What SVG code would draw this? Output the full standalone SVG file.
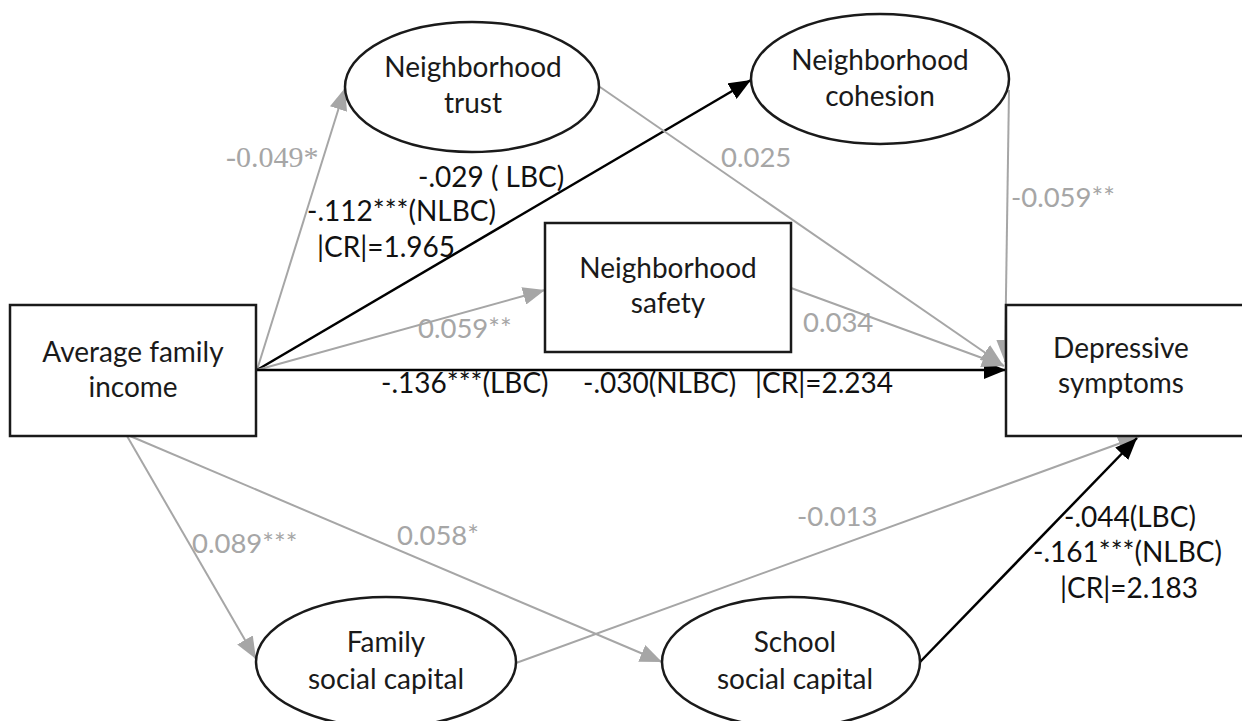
<svg xmlns="http://www.w3.org/2000/svg" width="1242" height="721" viewBox="0 0 1242 721">
<style>
.node{fill:#fff;stroke:#1a1a1a;stroke-width:2.5}
.lbl{font-family:Lato,"Open Sans",sans-serif;font-size:28px;fill:#1a1a1a;text-anchor:middle}
.blk{font-family:Lato,"Open Sans",sans-serif;font-size:28px;fill:#111}
.gry{font-family:Lato,"Open Sans",sans-serif;font-size:27.5px;fill:#a6a6a6}
.gser{font-family:"Liberation Serif",serif;font-size:30px;fill:#a6a6a6}
.cg{stroke:#a6a6a6;stroke-width:2;fill:none;marker-end:url(#ag)}
.cb{stroke:#000;stroke-width:2.5;fill:none;marker-end:url(#ab)}
</style>
<defs>
<marker id="ag" markerUnits="userSpaceOnUse" markerWidth="22" markerHeight="18" refX="22" refY="9" orient="auto"><path d="M0,0 L22,9 L0,18 z" fill="#a6a6a6"/></marker>
<marker id="ab" markerUnits="userSpaceOnUse" markerWidth="22" markerHeight="18" refX="22" refY="9" orient="auto"><path d="M0,0 L22,9 L0,18 z" fill="#000"/></marker>
</defs>
<rect width="1242" height="721" fill="#fff"/>
<g id="connectors">
<line class="cg" x1="257" y1="370" x2="345" y2="88"/>
<line class="cb" x1="257" y1="370" x2="751" y2="80"/>
<line class="cg" x1="257" y1="370" x2="545" y2="290"/>
<line class="cb" x1="257" y1="370" x2="1006" y2="370"/>
<line class="cg" x1="600" y1="87" x2="1003" y2="365"/>
<line class="cg" x1="791" y1="288" x2="1004" y2="366"/>
<line class="cg" x1="1009" y1="90" x2="1005" y2="362"/>
<line class="cg" x1="127" y1="436" x2="256" y2="659"/>
<line class="cg" x1="130" y1="436" x2="662" y2="662"/>
<line class="cg" x1="516" y1="663" x2="1140" y2="436"/>
<line class="cb" x1="920" y1="662" x2="1137" y2="438"/>
</g>
<g id="income">
<rect class="node" x="10" y="305" width="246" height="131"/>
<text class="lbl" x="133" y="362">Average family</text>
<text class="lbl" x="133" y="397">income</text>
</g>
<g id="trust">
<ellipse class="node" cx="472" cy="87" rx="127" ry="65"/>
<text class="lbl" x="473" y="77">Neighborhood</text>
<text class="lbl" x="473" y="113">trust</text>
</g>
<g id="cohesion">
<ellipse class="node" cx="880" cy="79" rx="129" ry="65"/>
<text class="lbl" x="880" y="70">Neighborhood</text>
<text class="lbl" x="880" y="106">cohesion</text>
</g>
<g id="safety">
<rect class="node" x="545" y="223" width="246" height="129"/>
<text class="lbl" x="668" y="278">Neighborhood</text>
<text class="lbl" x="668" y="313">safety</text>
</g>
<g id="depressive">
<rect class="node" x="1006" y="305" width="246" height="131"/>
<text class="lbl" x="1121" y="358">Depressive</text>
<text class="lbl" x="1121" y="393">symptoms</text>
</g>
<g id="family">
<ellipse class="node" cx="386" cy="662" rx="130" ry="65"/>
<text class="lbl" x="386" y="652">Family</text>
<text class="lbl" x="386" y="689">social capital</text>
</g>
<g id="school">
<ellipse class="node" cx="791" cy="662" rx="129" ry="65"/>
<text class="lbl" x="795" y="652">School</text>
<text class="lbl" x="795" y="689">social capital</text>
</g>
<g id="labels">
<text class="gser" x="226" y="167">-0.049*</text>
<text class="blk" x="418" y="187">-.029 ( LBC)</text>
<text class="blk" x="307" y="221">-.112***(NLBC)</text>
<text class="blk" x="317" y="257">|CR|=1.965</text>
<text class="gry" x="418" y="338">0.059**</text>
<text class="gry" x="721" y="167">0.025</text>
<text class="gry" x="1011" y="207">-0.059**</text>
<text class="gry" x="803" y="332">0.034</text>
<text class="blk" x="381" y="393">-.136***(LBC)</text>
<text class="blk" x="583" y="393">-.030(NLBC)</text>
<text class="blk" x="755" y="393">|CR|=2.234</text>
<text class="gry" x="192" y="553">0.089***</text>
<text class="gry" x="397" y="545">0.058*</text>
<text class="gry" x="797" y="526">-0.013</text>
<text class="blk" x="1064" y="527">-.044(LBC)</text>
<text class="blk" x="1033" y="562">-.161***(NLBC)</text>
<text class="blk" x="1060" y="598">|CR|=2.183</text>
</g>
</svg>
